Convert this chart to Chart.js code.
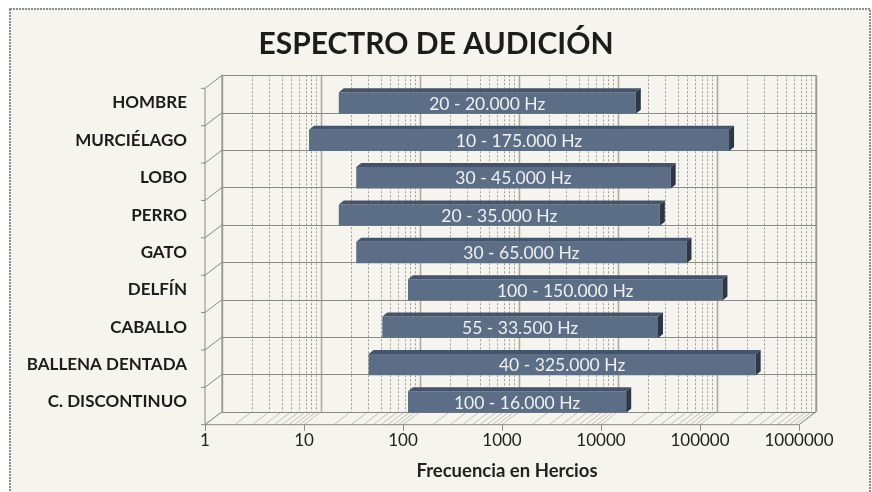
<!DOCTYPE html>
<html>
<head>
<meta charset="utf-8">
<script src="https://cdn.jsdelivr.net/npm/chart.js@4/dist/chart.umd.min.js"></script>
<style>
  body { margin: 0; background: #f5f4ee; }
  #chart { display: block; }
</style>
</head>
<body>
<canvas id="chart" width="872" height="492"></canvas>
<script>
const categories = ["HOMBRE", "MURCIÉLAGO", "LOBO", "PERRO", "GATO", "DELFÍN", "CABALLO", "BALLENA DENTADA", "C. DISCONTINUO"];
const lowHz = [20, 10, 30, 20, 30, 100, 55, 40, 100];
const highHz = [20000, 175000, 45000, 35000, 65000, 150000, 33500, 325000, 16000];
const barLabels = ["20 - 20.000 Hz", "10 - 175.000 Hz", "30 - 45.000 Hz", "20 - 35.000 Hz", "30 - 65.000 Hz",
                   "100 - 150.000 Hz", "55 - 33.500 Hz", "40 - 325.000 Hz", "100 - 16.000 Hz"];
const xTicks = [1, 10, 100, 1000, 10000, 100000, 1000000];

const FONT = "Lato, 'Open Sans', sans-serif";
// 3d offsets relative to the plane the bars sit on
const FRONT = [-5, 4];
const BACK = [12, -9];
const BAR_DEPTH = [5, -4];

// walls, floor and grid drawn behind the bars
const walls = {
    id: "walls",
    beforeDatasetsDraw(chart) {
        const ctx = chart.ctx;
        const ca = chart.chartArea;
        const xs = chart.scales.x;
        const band = (ca.bottom - ca.top) / categories.length;
        ctx.save();

        // back wall vertical grid + floor lines
        for (let k = 0; k <= 6; k++) {
            for (let m = 1; m <= 9; m++) {
                const v = m * Math.pow(10, k);
                if (v > 1000000) break;
                const x = Math.round(xs.getPixelForValue(v) + BACK[0]) + 0.5;
                ctx.beginPath();
                if (m === 1) {
                    ctx.strokeStyle = "#aca69d";
                    ctx.lineWidth = 1.5;
                    ctx.setLineDash([]);
                } else {
                    ctx.strokeStyle = "#9f9b94";
                    ctx.lineWidth = 1;
                    ctx.setLineDash([2, 2]);
                }
                ctx.moveTo(x, ca.top + BACK[1]);
                ctx.lineTo(x, ca.bottom + BACK[1]);
                ctx.stroke();

                ctx.beginPath();
                ctx.setLineDash([]);
                ctx.strokeStyle = "#c4c0b8";
                ctx.lineWidth = 1;
                const xp = xs.getPixelForValue(v);
                ctx.moveTo(xp + FRONT[0], ca.bottom + FRONT[1]);
                ctx.lineTo(xp + BACK[0], ca.bottom + BACK[1]);
                ctx.stroke();
            }
        }
        ctx.setLineDash([]);

        // back wall horizontal lines at category borders
        ctx.strokeStyle = "#8c8882";
        ctx.lineWidth = 1;
        for (let i = 0; i <= categories.length; i++) {
            const y = Math.round(ca.top + i * band + BACK[1]) + 0.5;
            ctx.beginPath();
            ctx.moveTo(ca.left + BACK[0], y);
            ctx.lineTo(ca.right + BACK[0], y);
            ctx.stroke();
            // left wall connectors
            ctx.beginPath();
            ctx.moveTo(ca.left + FRONT[0] - 4, ca.top + i * band + FRONT[1]);
            ctx.lineTo(ca.left + FRONT[0], ca.top + i * band + FRONT[1]);
            ctx.lineTo(ca.left + BACK[0], ca.top + i * band + BACK[1]);
            ctx.stroke();
        }

        // wall edges
        ctx.beginPath();
        ctx.moveTo(ca.left + FRONT[0], ca.top + FRONT[1]);
        ctx.lineTo(ca.left + FRONT[0], ca.bottom + FRONT[1]);
        ctx.moveTo(ca.left + BACK[0], ca.top + BACK[1]);
        ctx.lineTo(ca.left + BACK[0], ca.bottom + BACK[1]);
        ctx.moveTo(ca.right + BACK[0], ca.top + BACK[1]);
        ctx.lineTo(ca.right + BACK[0], ca.bottom + BACK[1]);
        ctx.stroke();

        // floor outline
        ctx.beginPath();
        ctx.moveTo(ca.left + FRONT[0], ca.bottom + FRONT[1]);
        ctx.lineTo(ca.right + FRONT[0], ca.bottom + FRONT[1]);
        ctx.lineTo(ca.right + BACK[0], ca.bottom + BACK[1]);
        ctx.stroke();

        // ticks under the floor
        xTicks.forEach(v => {
            const x = Math.round(xs.getPixelForValue(v) + FRONT[0]) + 0.5;
            ctx.beginPath();
            ctx.moveTo(x, ca.bottom + FRONT[1]);
            ctx.lineTo(x, ca.bottom + FRONT[1] + 6);
            ctx.stroke();
        });
        ctx.restore();
    }
};

// top / side faces of the bars and their labels
const barFaces = {
    id: "barFaces",
    afterDatasetsDraw(chart) {
        const ctx = chart.ctx;
        const meta = chart.getDatasetMeta(0);
        ctx.save();
        meta.data.forEach((bar, i) => {
            const p = bar.getProps(["x", "y", "base", "height"], true);
            const top = p.y - p.height / 2;
            const bottom = p.y + p.height / 2;
            const left = Math.min(p.x, p.base);
            const right = Math.max(p.x, p.base);

            ctx.fillStyle = "#45546a";
            ctx.beginPath();
            ctx.moveTo(left, top);
            ctx.lineTo(right, top);
            ctx.lineTo(right + BAR_DEPTH[0], top + BAR_DEPTH[1]);
            ctx.lineTo(left + BAR_DEPTH[0], top + BAR_DEPTH[1]);
            ctx.closePath();
            ctx.fill();

            ctx.fillStyle = "#2e3845";
            ctx.beginPath();
            ctx.moveTo(right, top);
            ctx.lineTo(right + BAR_DEPTH[0], top + BAR_DEPTH[1]);
            ctx.lineTo(right + BAR_DEPTH[0], bottom + BAR_DEPTH[1]);
            ctx.lineTo(right, bottom);
            ctx.closePath();
            ctx.fill();

            ctx.fillStyle = "#eef0f2";
            ctx.font = "17.5px " + FONT;
            ctx.textAlign = "center";
            ctx.textBaseline = "middle";
            ctx.fillText(barLabels[i], (left + right) / 2, p.y + 1);
        });
        ctx.restore();
    }
};

const frame = {
    id: "frame",
    afterLayout(chart) {
        // centre the title on the whole canvas, not on the padded box
        chart.titleBlock.left = 0;
        chart.titleBlock.right = chart.width;
    },
    beforeDraw(chart) {
        const ctx = chart.ctx;
        ctx.save();
        ctx.fillStyle = "#f5f4ee";
        ctx.fillRect(0, 0, chart.width, chart.height);
        ctx.fillStyle = "#ffffff";
        ctx.fillRect(0, 0, chart.width, 8);
        ctx.fillRect(0, 0, 9, chart.height);
        ctx.strokeStyle = "#8d8d8d";
        ctx.lineWidth = 2;
        ctx.setLineDash([2, 1]);
        ctx.strokeRect(10, 9, 860, 500);
        ctx.restore();
    }
};

new Chart(document.getElementById("chart"), {
    type: "bar",
    data: {
        labels: categories,
        datasets: [{
            data: lowHz.map((lo, i) => [lo, highHz[i]]),
            backgroundColor: "#5c6e85",
            borderWidth: 0,
            barPercentage: 0.57,
            categoryPercentage: 1
        }]
    },
    options: {
        indexAxis: "y",
        responsive: false,
        animation: false,
        devicePixelRatio: 1,
        layout: { padding: { left: 0, right: 68, top: 0, bottom: 0 } },
        plugins: {
            legend: { display: false },
            tooltip: { enabled: false },
            title: {
                display: true,
                text: "ESPECTRO DE AUDICIÓN",
                color: "#1c1c1c",
                font: { family: FONT, size: 30, weight: "bold", lineHeight: 1.2 },
                padding: { top: 26, bottom: 22.3 }
            }
        },
        scales: {
            x: {
                type: "logarithmic",
                min: 1,
                max: 1000000,
                grid: { display: false, drawTicks: false },
                border: { display: false },
                afterBuildTicks: s => { s.ticks = xTicks.map(v => ({ value: v })); },
                afterFit: s => { s.height = 71.3; },
                ticks: {
                    color: "#222",
                    font: { family: FONT, size: 17 },
                    padding: 10,
                    labelOffset: -5,
                    maxRotation: 0,
                    callback: v => String(v)
                },
                title: {
                    display: true,
                    text: "Frecuencia en Hercios",
                    color: "#222",
                    font: { family: FONT, size: 18.5, weight: "bold" },
                    padding: { top: 0, bottom: 10 }
                }
            },
            y: {
                grid: { display: false, drawTicks: false },
                border: { display: false },
                afterFit: s => { s.width = 210; },
                ticks: {
                    color: "#1c1c1c",
                    font: { family: FONT, size: 17, weight: "bold" },
                    padding: 23
                }
            }
        }
    },
    plugins: [frame, walls, barFaces]
});
</script>
</body>
</html>
